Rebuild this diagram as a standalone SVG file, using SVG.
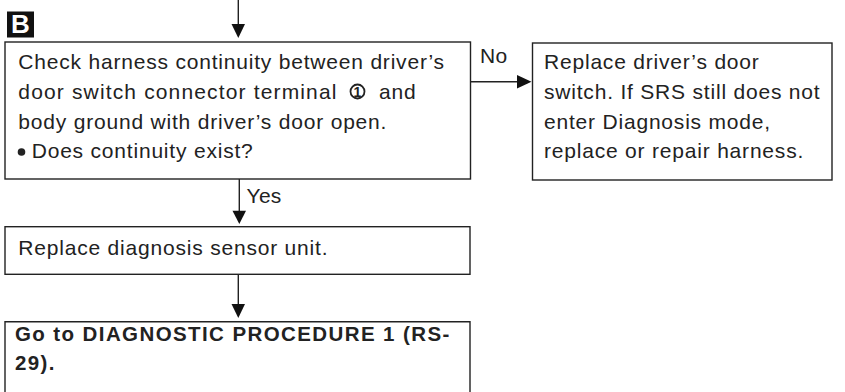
<svg xmlns="http://www.w3.org/2000/svg" width="845" height="392" viewBox="0 0 845 392">
<style>
.box{fill:#fff;stroke:#222;stroke-width:1.4}
.t{font-family:"Liberation Sans",Arial,sans-serif;font-size:21px;fill:#222;letter-spacing:0.8px}
.b{font-family:"Liberation Sans",Arial,sans-serif;font-size:20.5px;font-weight:bold;fill:#222;letter-spacing:1.4px}
.ln{stroke:#222;stroke-width:1.4;fill:none}
.ah{fill:#111}
</style>
<rect width="845" height="392" fill="#fff"/>
<g id="label-B">
<rect x="7" y="11.5" width="27" height="26" fill="#111"/>
<text x="20.5" y="33" text-anchor="middle" font-family="Liberation Sans,Arial,sans-serif" font-size="26" font-weight="bold" fill="#fff">B</text>
</g>
<g id="connectors">
<line class="ln" x1="238.3" y1="0" x2="238.3" y2="26"/>
<polygon class="ah" points="231.5,24 245,24 238.3,38"/>
<line class="ln" x1="471" y1="81.7" x2="519" y2="81.7"/>
<polygon class="ah" points="517,75 517,88.4 531.5,81.7"/>
<text class="t" x="480" y="63.3" style="letter-spacing:0.3px">No</text>
<line class="ln" x1="239.3" y1="179" x2="239.3" y2="212"/>
<polygon class="ah" points="232.5,210.7 246,210.7 239.3,224"/>
<text class="t" x="246.5" y="203.3" style="letter-spacing:0.3px">Yes</text>
<line class="ln" x1="238.3" y1="274.5" x2="238.3" y2="306"/>
<polygon class="ah" points="231.5,304 245,304 238.3,318"/>
</g>
<g id="node-check">
<rect class="box" x="5" y="42" width="465.5" height="137"/>
<text class="t" x="18.3" y="69.3">Check harness continuity between driver’s</text>
<text class="t" x="18.3" y="98.8" style="letter-spacing:1.15px">door switch connector terminal</text>
<circle cx="357.5" cy="91.5" r="7" fill="none" stroke="#222" stroke-width="1.8"/>
<text x="357.5" y="97" text-anchor="middle" font-family="Liberation Sans,Arial,sans-serif" font-size="14" font-weight="bold" fill="#222">1</text>
<text class="t" x="379" y="98.8">and</text>
<text class="t" x="18.3" y="128.8">body ground with driver’s door open.</text>
<circle cx="21.5" cy="152" r="3.8" fill="#222"/>
<text class="t" x="31.7" y="158">Does continuity exist?</text>
</g>
<g id="node-replace-switch">
<rect class="box" x="532.5" y="43" width="299.5" height="137"/>
<text class="t" x="544" y="69.3">Replace driver’s door</text>
<text class="t" x="544" y="98.8">switch. If SRS still does not</text>
<text class="t" x="544" y="128.8">enter Diagnosis mode,</text>
<text class="t" x="544" y="157.8">replace or repair harness.</text>
</g>
<g id="node-replace-sensor">
<rect class="box" x="5" y="226.7" width="465" height="47.6"/>
<text class="t" x="18.3" y="255">Replace diagnosis sensor unit.</text>
</g>
<g id="node-goto">
<path class="ln" d="M5,394 V321.7 H470 V394"/>
<text class="b" x="15" y="341">Go to DIAGNOSTIC PROCEDURE 1 (RS-</text>
<text class="b" x="15" y="370">29).</text>
</g>
</svg>
